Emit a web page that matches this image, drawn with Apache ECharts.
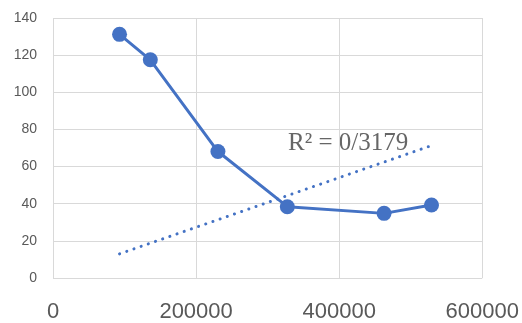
<!DOCTYPE html>
<html>
<head>
<meta charset="utf-8">
<script src="https://cdn.jsdelivr.net/npm/echarts@6/dist/echarts.min.js"></script>
<style>html,body{margin:0;padding:0;background:#fff}#c{width:522px;height:323px}</style>
</head>
<body>
<div id="c"></div>
<script>
var xValues = [93000, 136000, 230500, 327500, 462700, 529000];
var yValues = [131.2, 117.5, 68.1, 38.4, 34.8, 39.3];
var trendX = [93000, 529000];
var trendY = [13, 71.3];
var r2Label = 'R² = 0/3179';
var xTicks = [0, 200000, 400000, 600000];

var chart = echarts.init(document.getElementById('c'), null, {renderer: 'canvas'});
chart.setOption({
  animation: false,
  grid: {left: 53, right: 39, top: 18, bottom: 42, containLabel: false},
  xAxis: {
    type: 'value', min: 0, max: 600000, interval: 200000,
    axisLine: {show: false}, axisTick: {show: false},
    splitLine: {show: true, lineStyle: {color: '#d9d9d9', width: 1}},
    axisLabel: {color: '#595959', fontSize: 22, fontFamily: 'Liberation Sans', margin: 23,
      formatter: function (v) { return xTicks.indexOf(v) >= 0 ? String(v) : ''; }}
  },
  yAxis: {
    type: 'value', min: 0, max: 140, interval: 20,
    axisLine: {show: false}, axisTick: {show: false},
    splitLine: {show: true, lineStyle: {color: '#d9d9d9', width: 1}},
    axisLabel: {color: '#595959', fontSize: 14, fontFamily: 'Liberation Sans', margin: 16}
  },
  series: [
    {
      type: 'line', z: 2,
      data: trendX.map(function (x, i) { return [x, trendY[i]]; }),
      showSymbol: false, symbol: 'none',
      lineStyle: {color: '#4472C4', width: 3, type: [0.1, 7.5], cap: 'round'}
    },
    {
      type: 'line', z: 3,
      data: xValues.map(function (x, i) { return [x, yValues[i]]; }),
      symbol: 'circle', symbolSize: 15,
      itemStyle: {color: '#4472C4'},
      lineStyle: {color: '#4472C4', width: 3}
    }
  ],
  graphic: [{
    type: 'text', left: 288, top: 131,
    style: {text: r2Label, fill: '#666666', font: '25px "Liberation Serif"'}
  }]
});
</script>
</body>
</html>
